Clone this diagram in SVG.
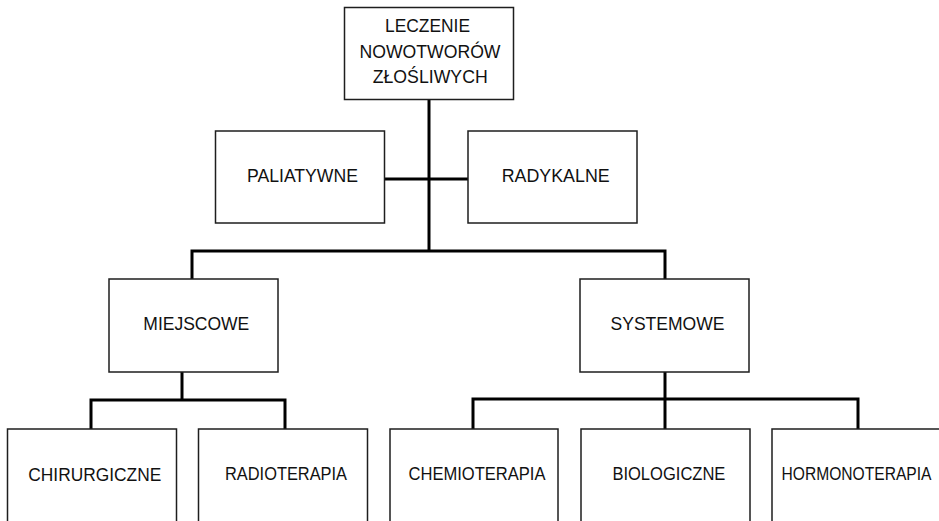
<svg xmlns="http://www.w3.org/2000/svg" width="939" height="521" viewBox="0 0 939 521">
<style>
.box{fill:#fff;stroke:#1e1e1e;stroke-width:1.5}
.lbl{font-family:"Liberation Sans",Arial,sans-serif;font-size:18px;fill:#111}
.con{fill:none;stroke:#000;stroke-width:3;stroke-linecap:butt;stroke-linejoin:miter}
</style>
<rect width="939" height="521" fill="#fff"/>
<g id="connectors" class="con">
<path d="M429,99 V251"/>
<path d="M385,179 H468"/>
<path d="M192,279 V251 H665 V279"/>
<path d="M182,372 V400"/>
<path d="M91,429 V400 H285 V429"/>
<path d="M665,372 V429"/>
<path d="M473,429 V399 H858 V429"/>
</g>
<g id="node-leczenie">
<rect class="box" x="344.5" y="7.5" width="169" height="92"/>
<text class="lbl" x="385" y="32" textLength="85" lengthAdjust="spacingAndGlyphs">LECZENIE</text>
<text class="lbl" x="359.5" y="57.5" textLength="141" lengthAdjust="spacingAndGlyphs">NOWOTWORÓW</text>
<text class="lbl" x="372.7" y="83" textLength="115" lengthAdjust="spacingAndGlyphs">ZŁOŚLIWYCH</text>
</g>
<g id="node-paliatywne">
<rect class="box" x="215.5" y="131" width="169" height="92"/>
<text class="lbl" x="247" y="181.5" textLength="111" lengthAdjust="spacingAndGlyphs">PALIATYWNE</text>
</g>
<g id="node-radykalne">
<rect class="box" x="468" y="131" width="169" height="92"/>
<text class="lbl" x="501.7" y="181.5" textLength="108" lengthAdjust="spacingAndGlyphs">RADYKALNE</text>
</g>
<g id="node-miejscowe">
<rect class="box" x="109" y="279" width="169" height="93"/>
<text class="lbl" x="143.3" y="330" textLength="106" lengthAdjust="spacingAndGlyphs">MIEJSCOWE</text>
</g>
<g id="node-systemowe">
<rect class="box" x="580" y="279" width="169" height="93"/>
<text class="lbl" x="610.5" y="330" textLength="114" lengthAdjust="spacingAndGlyphs">SYSTEMOWE</text>
</g>
<g id="node-chirurgiczne">
<rect class="box" x="7.5" y="429" width="169" height="100"/>
<text class="lbl" x="28.3" y="480.5" textLength="133" lengthAdjust="spacingAndGlyphs">CHIRURGICZNE</text>
</g>
<g id="node-radioterapia">
<rect class="box" x="198.5" y="429" width="169" height="100"/>
<text class="lbl" x="225" y="479.5" textLength="122" lengthAdjust="spacingAndGlyphs">RADIOTERAPIA</text>
</g>
<g id="node-chemioterapia">
<rect class="box" x="390" y="429" width="168" height="100"/>
<text class="lbl" x="408.5" y="479.5" textLength="137" lengthAdjust="spacingAndGlyphs">CHEMIOTERAPIA</text>
</g>
<g id="node-biologiczne">
<rect class="box" x="581" y="429" width="169" height="100"/>
<text class="lbl" x="612.4" y="479.5" textLength="113" lengthAdjust="spacingAndGlyphs">BIOLOGICZNE</text>
</g>
<g id="node-hormonoterapia">
<rect class="box" x="772" y="429" width="180" height="100"/>
<text class="lbl" x="781.5" y="479.5" textLength="150" lengthAdjust="spacingAndGlyphs">HORMONOTERAPIA</text>
</g>
</svg>
